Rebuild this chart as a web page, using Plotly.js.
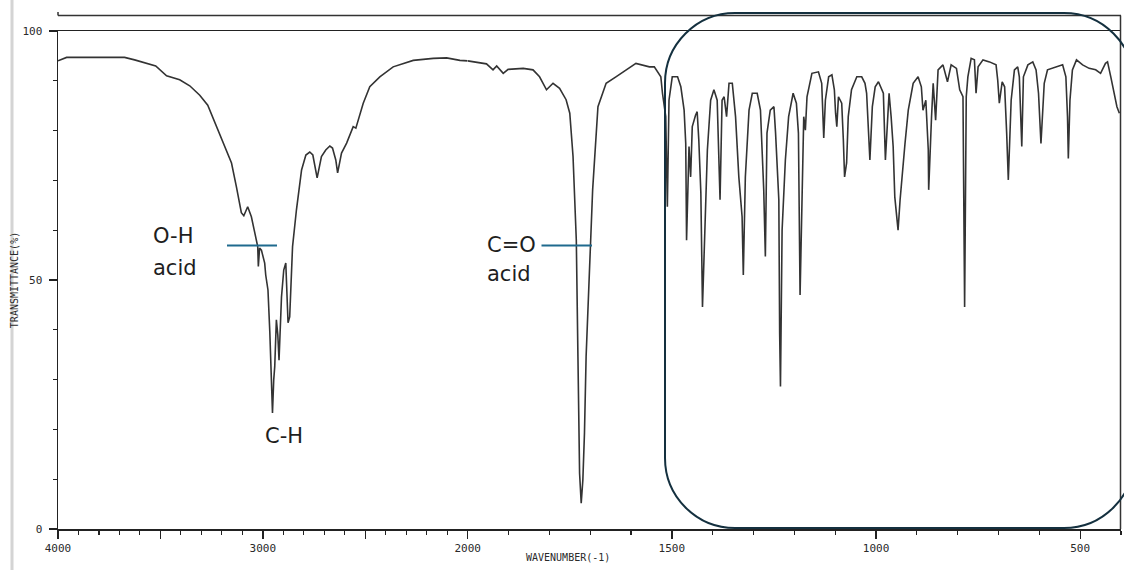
<!DOCTYPE html>
<html><head><meta charset="utf-8">
<script src="https://cdn.plot.ly/plotly-3.0.1.min.js"></script>
<style>html,body{margin:0;padding:0;background:#fff;overflow:hidden}#chart{width:1124px;height:570px}</style>
</head><body><div id="chart"></div>
<script>
// ---- data ----
const wavenumber = [
4000,3958,3782,3675,3626,3577,3523,3470,3406,3357,3308,3269,3227,3178,3153,3129,3105,3093,3074,3056,
3040,3025,3022,3016,3007,2991,2986,2975,2966,2958,2953,2947,2942,2934,2927,2921,2909,2898,2888,2877,
2869,2855,2836,2811,2790,2771,2756,2735,2714,2693,2673,2660,2644,2635,2616,2591,2559,2546,2510,2478,
2429,2364,2266,2168,2103,2038,2000,
1986,1954,1938,1929,1913,1901,1864,1840,1824,1807,1791,1775,1759,1750,1742,1734,1730,1726,1722,1718,
1714,1710,1702,1694,1681,1661,1637,1588,1555,1543,1527,1523,1515,1511,1507,1499,1486,1478,1470,1466,
1464,1458,1454,1450,1442,1438,1434,1429,1425,1417,1413,1405,1397,1389,1385,1382,1377,1372,1366,1360,
1352,1344,1336,1328,1325,1320,1311,1303,1291,1283,1279,1275,1271,1267,1259,1250,1246,1238,1236,1234,
1230,1222,1214,1203,1195,1190,1186,1182,1177,1173,1169,1157,1141,1133,1128,1124,1116,1108,1102,1099,
1096,1092,1084,1080,1077,1072,1068,1060,1047,1035,1027,1023,1017,1015,1009,1002,994,982,977,972,
968,963,958,954,946,941,938,929,921,909,897,889,885,878,872,871,864,860,854,848,
836,825,816,803,795,787,783,779,775,767,759,755,750,738,722,706,702,698,691,685,
680,676,669,661,653,649,643,639,628,616,608,602,596,588,580,559,543,535,531,529,
525,519,509,494,478,462,450,438,433,425,417,410,404];
const transmittance = [
94.0,94.7,94.7,94.7,94.2,93.6,93.0,91.0,90.2,89.0,87.1,85.1,80.8,76.1,73.5,68.7,63.5,62.9,64.7,62.7,
59.4,56.7,52.7,56.4,56.0,53.4,51.0,48.0,39.6,30.6,23.3,29.9,32.6,42.0,39.0,33.9,46.6,52.0,53.4,41.4,
42.6,56.7,64.1,72.1,75.1,75.7,75.1,70.5,74.8,76.1,76.9,76.5,74.1,71.5,75.5,77.5,80.8,80.5,85.5,88.8,
90.8,92.8,94.1,94.5,94.6,94.1,94.0,
93.8,93.4,92.2,93.0,91.5,92.3,92.5,92.2,90.8,88.2,89.5,88.5,86.2,83.5,74.8,58.0,34.6,11.2,5.2,9.8,
19.3,34.6,51.4,68.1,84.8,89.5,90.8,93.5,92.8,92.8,90.8,87.5,82.8,64.7,86.1,90.8,90.8,88.8,84.1,77.4,
58.0,76.8,70.7,80.8,83.1,83.8,78.1,67.5,44.6,67.5,76.1,86.1,88.2,86.1,74.1,66.1,86.1,86.8,82.8,89.5,
89.5,82.8,70.7,62.7,51.0,70.7,84.1,87.5,87.5,84.1,76.1,68.1,54.7,79.5,84.1,84.8,79.5,66.1,39.4,28.6,
60.0,74.1,82.8,87.5,85.5,79.5,47.0,65.5,82.8,80.1,86.8,91.5,91.8,89.5,78.5,86.1,90.8,91.2,88.2,83.5,
80.8,86.8,85.5,78.1,70.7,73.5,82.8,88.2,90.8,90.8,89.5,87.5,76.1,74.1,84.8,88.8,89.8,87.5,74.1,82.8,
87.5,82.8,76.8,66.7,60.0,66.1,69.4,77.4,84.1,89.5,90.8,88.8,84.1,86.1,76.1,68.1,82.8,89.5,82.1,92.2,
93.2,89.8,93.2,92.5,88.2,86.8,44.6,86.8,90.8,94.5,94.2,87.5,92.8,94.2,93.8,93.2,90.2,85.5,89.8,88.8,
79.5,70.1,86.1,92.2,92.8,90.8,76.8,90.8,93.2,93.8,92.2,87.5,77.4,89.5,92.2,92.8,93.2,90.8,82.8,74.4,
86.1,92.2,94.2,93.2,92.5,92.2,91.5,93.5,93.8,90.8,87.5,84.8,83.5];
const xTickValsHigh = [4000, 3500, 3000, 2500, 2000];
const xTickTextHigh = ['4000', '', '3000', '', '2000'];
const xTickValsLow = [1500, 1000, 500];
const xTickTextLow = ['1500', '1000', '500'];
const yTickVals = [0, 50, 100];
const yTickText = ['0', '50', '100'];
const xTitle = 'WAVENUMBER(-1)';
const yTitle = 'TRANSMITTANCE(%)';
const bandNames = ['O-H', 'acid', 'C-H', 'C=O', 'acid'];

// ---- split the spectrum at the 2000 cm-1 scale change ----
const hiX = [], hiY = [], loX = [], loY = [];
wavenumber.forEach((w, i) => {
  if (w >= 2000) { hiX.push(w); hiY.push(transmittance[i]); }
  if (w <= 2000) { loX.push(w); loY.push(transmittance[i]); }
});

// ---- geometry helpers (pixel -> paper) ----
const W = 1124, H = 570, ML = 58, MR = 3, MT = 31, MB = 41;
const PW = W - ML - MR, PH = H - MT - MB;
const px = x => (x - ML) / PW;
const py = y => (H - MB - y) / PH;
const split = px(467.7);

const lineStyle = {color: '#333333', width: 1.6};
const traces = [
  {x: hiX, y: hiY, xaxis: 'x', yaxis: 'y', type: 'scatter', mode: 'lines', line: lineStyle, hoverinfo: 'x+y'},
  {x: loX, y: loY, xaxis: 'x2', yaxis: 'y', type: 'scatter', mode: 'lines', line: lineStyle, hoverinfo: 'x+y'}
];

const tickFont = {family: 'DejaVu Sans Mono', size: 11, color: '#2a2a2a'};
const axisCommon = {
  showline: true, linecolor: '#222', linewidth: 1.5, mirror: true,
  ticks: 'outside', ticklen: 8, tickwidth: 1.3, tickcolor: '#222',
  showgrid: false, zeroline: false, tickfont: tickFont, tickmode: 'array',
  minor: {tickmode: 'linear', tick0: 0, dtick: 100, ticks: 'outside', ticklen: 4, tickwidth: 1.1, tickcolor: '#222', showgrid: false}
};

// rounded rectangle (fingerprint region box)
function roundRect(L, T, R, B, r) {
  const k = 0.5523 * r;
  const P = (x, y) => px(x).toFixed(5) + ',' + py(y).toFixed(5);
  return 'M' + P(L, T + r) + ' L' + P(L, B - r) +
    ' C' + P(L, B - r + k) + ' ' + P(L + r - k, B) + ' ' + P(L + r, B) +
    ' L' + P(R - r, B) +
    ' C' + P(R - r + k, B) + ' ' + P(R, B - r + k) + ' ' + P(R, B - r) +
    ' L' + P(R, T + r) +
    ' C' + P(R, T + r - k) + ' ' + P(R - r + k, T) + ' ' + P(R - r, T) +
    ' L' + P(L + r, T) +
    ' C' + P(L + r - k, T) + ' ' + P(L, T + r - k) + ' ' + P(L, T + r) + ' Z';
}

const shapes = [
  {type: 'line', xref: 'paper', yref: 'paper', x0: px(12), x1: px(12), y0: py(570), y1: py(0), line: {color: '#d4d4d4', width: 3}},
  {type: 'line', xref: 'paper', yref: 'paper', x0: px(58), x1: px(1121), y0: py(15.5), y1: py(15.5), line: {color: '#333', width: 1.5}},
  {type: 'line', xref: 'paper', yref: 'paper', x0: px(58), x1: px(58), y0: py(15.5), y1: py(12), line: {color: '#333', width: 1.5}},
  {type: 'line', xref: 'paper', yref: 'paper', x0: px(1120.5), x1: px(1120.5), y0: py(15.5), y1: py(529), line: {color: '#333', width: 1.5}},
  {type: 'line', xref: 'paper', yref: 'paper', x0: px(227), x1: px(277), y0: py(245.5), y1: py(245.5), line: {color: '#1f6a8e', width: 2}},
  {type: 'line', xref: 'paper', yref: 'paper', x0: px(541.5), x1: px(592), y0: py(245.5), y1: py(245.5), line: {color: '#1f6a8e', width: 2}},
  {type: 'path', xref: 'paper', yref: 'paper', path: roundRect(665, 13, 1134, 528, 70), line: {color: '#14303f', width: 2}, layer: 'above'}
];

const labFont = {family: 'DejaVu Sans', size: 21, color: '#1e1e1e'};
const ann = (text, x, y, anchor) => ({text, x: px(x), y: py(y), xref: 'paper', yref: 'paper', showarrow: false,
  xanchor: anchor || 'left', yanchor: 'middle', font: labFont});
const annotations = [
  ann(bandNames[0], 151, 236),
  ann(bandNames[1], 151, 268),
  ann(bandNames[2], 284, 436, 'center'),
  ann(bandNames[3], 485, 245),
  ann(bandNames[4], 485, 274),
  {text: xTitle, x: px(568), y: py(557), xref: 'paper', yref: 'paper', showarrow: false, xanchor: 'center', yanchor: 'middle',
   font: {family: 'DejaVu Sans Mono', size: 10, color: '#2a2a2a'}}
];

const layout = {
  width: W, height: H,
  margin: {l: ML, r: MR, t: MT, b: MB, pad: 0},
  paper_bgcolor: '#fff', plot_bgcolor: '#fff',
  showlegend: false,
  xaxis: Object.assign({}, axisCommon, {domain: [0, split], range: [4000, 2000], tickvals: xTickValsHigh, ticktext: xTickTextHigh, anchor: 'y'}),
  xaxis2: Object.assign({}, axisCommon, {domain: [split, 1], range: [2000, 400], tickvals: xTickValsLow, ticktext: xTickTextLow, anchor: 'y'}),
  yaxis: {
    range: [0, 100], domain: [0, 1], anchor: 'x',
    showline: true, linecolor: '#222', linewidth: 1.5, mirror: false,
    ticks: 'outside', ticklen: 8, tickwidth: 1.3, tickcolor: '#222',
    tickmode: 'array', tickvals: yTickVals, ticktext: yTickText, tickfont: tickFont, ticklabelstandoff: 4,
    showgrid: false, zeroline: false,
    minor: {tickmode: 'linear', tick0: 0, dtick: 10, ticks: 'outside', ticklen: 4, tickwidth: 1.1, tickcolor: '#222', showgrid: false},
    title: {text: yTitle, standoff: 2, font: {family: 'DejaVu Sans Mono', size: 10, color: '#2a2a2a'}}
  },
  shapes, annotations
};

Plotly.newPlot('chart', traces, layout, {displayModeBar: false, staticPlot: true});
</script>
</body></html>
